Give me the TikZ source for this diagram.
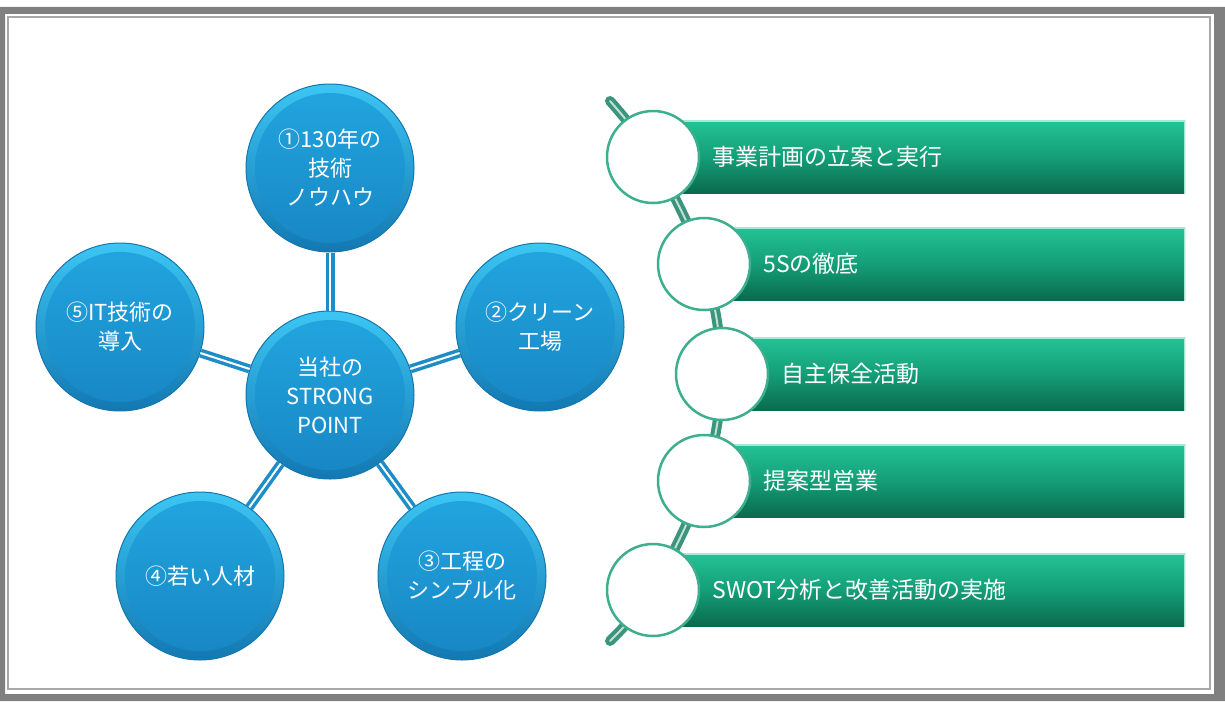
\documentclass[tikz,border=0pt]{standalone}
\usepackage{fontspec}
\setmainfont{Noto Sans CJK JP}
\usetikzlibrary{backgrounds}

\definecolor{framegray}{HTML}{808080}
\definecolor{framethin}{HTML}{A8A8A8}
\definecolor{ballhi}{HTML}{3CC6F4}
\definecolor{balllo}{HTML}{1378B2}
\definecolor{ballrim}{HTML}{1476AE}
\definecolor{ballintop}{HTML}{22A6E0}
\definecolor{ballinbot}{HTML}{1786C3}
\definecolor{spokeblue}{HTML}{1E8DC7}
\definecolor{barhi}{HTML}{23C295}
\definecolor{barmid}{HTML}{149E78}
\definecolor{barlo}{HTML}{0A6A4C}
\definecolor{tubegreen}{HTML}{3A957A}
\definecolor{dotrim}{HTML}{3DAE8E}

\tikzset{
  ball/.style={circle, minimum size=168, inner sep=0pt, draw=ballrim, line width=1,
    top color=ballhi, bottom color=balllo, text=white, align=center,
    font=\fontsize{22}{29}\selectfont,
    path picture={\shade[top color=ballintop, bottom color=ballinbot]
      (path picture bounding box.center) circle (75);}},
  spoke/.style={draw=spokeblue, line width=3.5, double=white, double distance=2},
  bar/.style={rectangle, minimum height=73, inner sep=0pt, anchor=west,
    top color=barhi, bottom color=barlo, middle color=barmid,
    path picture={\draw[barhi!40!white, line width=2]
      (path picture bounding box.north west) -- (path picture bounding box.north east)
      -- (path picture bounding box.south east);}},
  dot/.style={circle, minimum size=92, inner sep=0pt, fill=white, draw=dotrim, line width=2.5},
  item/.style={anchor=west, text=white, inner sep=0pt, font=\fontsize{23}{27}\selectfont},
  tubeline/.style={draw=tubegreen, line width=4, double=white!70!tubegreen,
    double distance=2, line cap=round},
}

\begin{document}
\begin{tikzpicture}[x=1pt, y=-1pt]
  \useasboundingbox (0,0) rectangle (1225,701);
  % frame
  \fill[framegray, even odd rule] (0,7) rectangle (1225,701) (5,14) rectangle (1214,694);
  \draw[framethin, line width=2] (8,17) rectangle (1210,689);

  % strong points
  \node[ball] (hub) at (330,395) {当社の\\STRONG\\POINT};
  \node[ball] (p1) at (330,168) {①130年の\\技術\\ノウハウ};
  \node[ball] (p2) at (540,327) {②クリーン\\工場};
  \node[ball] (p3) at (462,576) {③工程の\\シンプル化};
  \node[ball] (p4) at (200,576) {④若い人材};
  \node[ball] (p5) at (120,327) {⑤IT技術の\\導入};
  \foreach \i in {1,...,5}
    \draw[spoke] (hub) -- (p\i);

  % activities
  \foreach \i/\x/\y/\txt in {1/653/157/事業計画の立案と実行, 2/704/264/5Sの徹底,
      3/722/374/自主保全活動, 4/704/481/提案型営業, 5/653/590/SWOT分析と改善活動の実施} {
    \pgfmathsetmacro\w{1185-\x}
    \node[bar, minimum width=\w pt] (bar\i) at (\x,\y) {};
    \node[dot] (dot\i) at (\x,\y) {};
    \node[item] (lab\i) at ([xshift=12]dot\i.east) {\txt};
  }
  \coordinate (tubetop) at (610,101);
  \coordinate (tubebot) at (610,641);
  \begin{pgfonlayer}{background}
    \draw[tubeline] plot[smooth] coordinates {(tubetop) (dot1) (dot2) (dot3) (dot4) (dot5) (tubebot)};
  \end{pgfonlayer}
\end{tikzpicture}
\end{document}
